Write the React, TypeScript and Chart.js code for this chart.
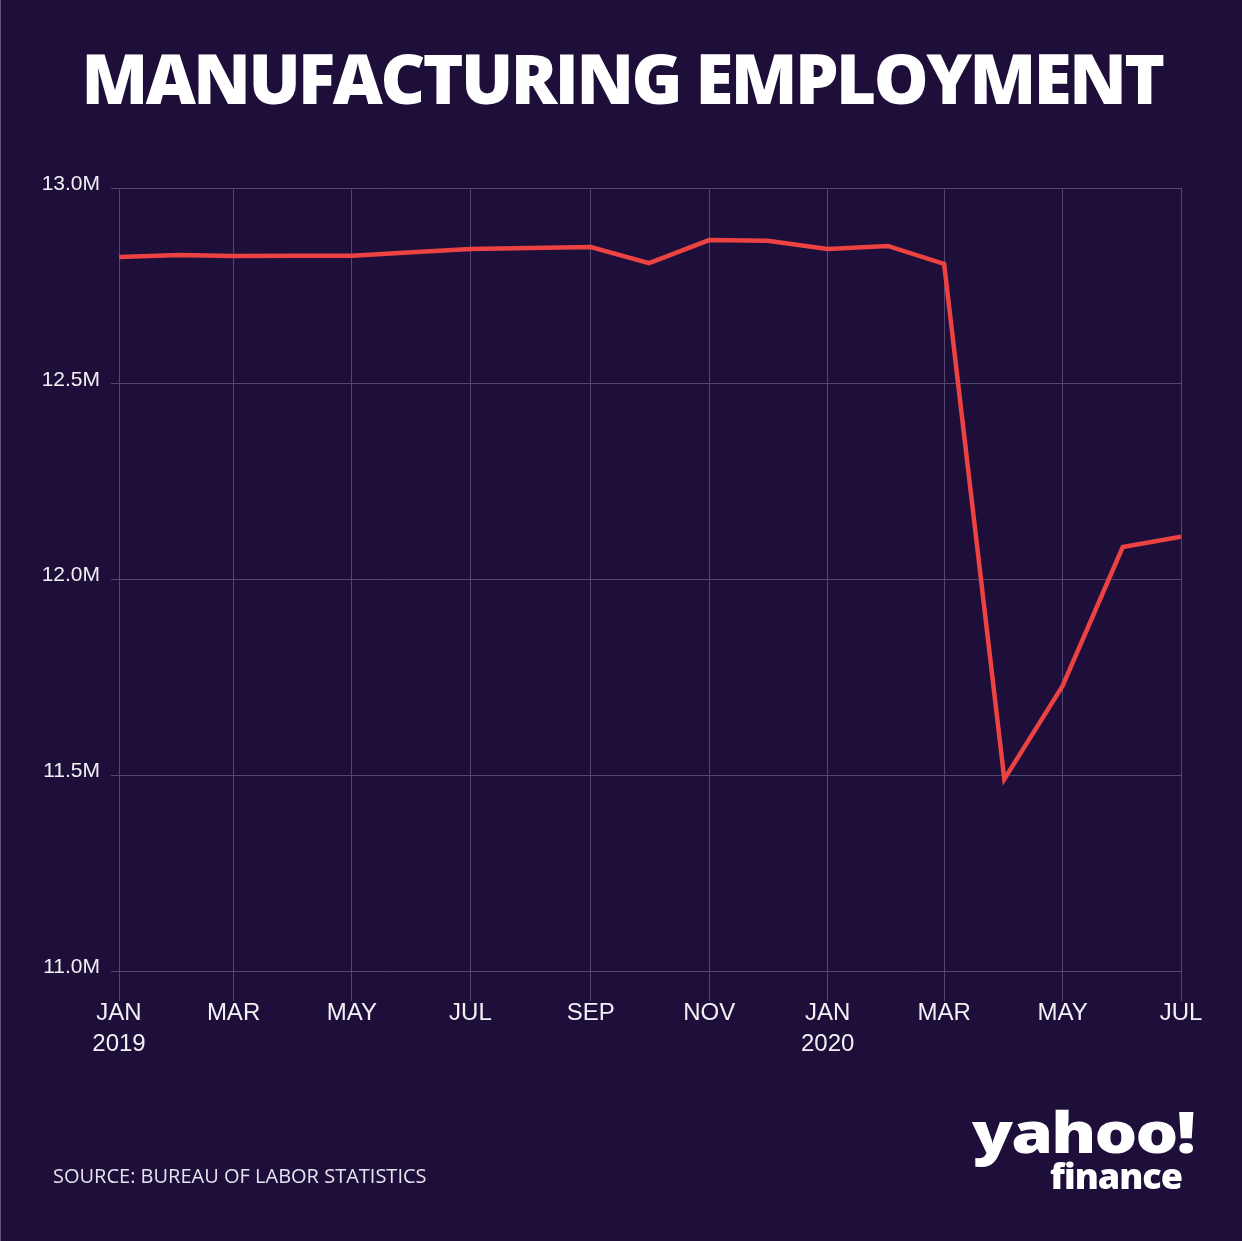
import React, { useEffect, useRef } from "react";
import { Chart, registerables } from "chart.js";

Chart.register(...registerables);

// Monthly observations, Jan 2019 .. Jul 2020
const months = [
  "2019-01", "2019-02", "2019-03", "2019-04", "2019-05", "2019-06", "2019-07", "2019-08",
  "2019-09", "2019-10", "2019-11", "2019-12", "2020-01", "2020-02", "2020-03", "2020-04",
  "2020-05", "2020-06", "2020-07",
];
const employmentMillions = [
  12.824, 12.829, 12.826, 12.827, 12.827, 12.836, 12.844, 12.847, 12.849, 12.808,
  12.867, 12.865, 12.844, 12.852, 12.806, 11.49, 11.728, 12.083, 12.109,
];
const tickMonths = [
  "2019-01", "2019-03", "2019-05", "2019-07", "2019-09", "2019-11",
  "2020-01", "2020-03", "2020-05", "2020-07",
];
const tickLabels: (string | string[])[] = [
  ["JAN", "2019"], "MAR", "MAY", "JUL", "SEP", "NOV", ["JAN", "2020"], "MAR", "MAY", "JUL",
];
const yTicks = [11.0, 11.5, 12.0, 12.5, 13.0];

const BG = "#1d0e3a";
const GRID = "#51476f";
const LINE = "#ec4242";
const DAY = 86400000;

function dayOf(m: string): number {
  const [y, mo] = m.split("-").map(Number);
  return (Date.UTC(y, mo - 1, 1) - Date.UTC(2019, 0, 1)) / DAY;
}

export default function App() {
  const canvasRef = useRef<HTMLCanvasElement | null>(null);

  useEffect(() => {
    if (!canvasRef.current) return;
    const points = months.map((m, i) => ({ x: dayOf(m), y: employmentMillions[i] }));
    const tickDays = tickMonths.map(dayOf);
    const chart = new Chart(canvasRef.current, {
      type: "line",
      data: {
        datasets: [
          {
            data: points,
            borderColor: LINE,
            borderWidth: 4.5,
            pointRadius: 0,
            tension: 0,
            fill: false,
          },
        ],
      },
      options: {
        responsive: false,
        animation: false,
        layout: { padding: { left: 0, right: 61, top: 188, bottom: 170 } },
        plugins: { legend: { display: false }, tooltip: { enabled: false }, title: { display: false } },
        scales: {
          x: {
            type: "linear",
            min: tickDays[0],
            max: tickDays[tickDays.length - 1],
            border: { display: false },
            afterBuildTicks: (s: any) => {
              s.ticks = tickDays.map((v) => ({ value: v }));
            },
            grid: { color: GRID, tickColor: GRID, tickLength: 30, lineWidth: 1 },
            ticks: {
              autoSkip: false,
              maxRotation: 0,
              minRotation: 0,
              padding: -3,
              color: "#f2f0f5",
              font: { family: "'Liberation Sans', Arial, sans-serif", size: 24, lineHeight: 1.3 },
              callback: (v: any) => {
                const i = tickDays.indexOf(Number(v));
                return i >= 0 ? tickLabels[i] : "";
              },
            },
            afterFit: (s: any) => {
              s.height = 100;
            },
          },
          y: {
            min: 11,
            max: 13,
            border: { display: false },
            afterBuildTicks: (s: any) => {
              s.ticks = yTicks.map((v) => ({ value: v }));
            },
            grid: { color: GRID, tickColor: GRID, tickLength: 8, lineWidth: 1 },
            ticks: {
              padding: 11,
              color: "#f2f0f5",
              font: { family: "'Liberation Sans', Arial, sans-serif", size: 21, lineHeight: 0.38 },
              callback: (v: any) => [Number(v).toFixed(1) + "M", ""],
            },
            afterFit: (s: any) => {
              s.width = 119;
            },
          },
        },
      },
    });
    return () => chart.destroy();
  }, []);

  return (
    <div
      style={{
        position: "absolute",
        left: 0,
        top: 0,
        width: 1242,
        height: 1241,
        background: BG,
        overflow: "hidden",
        borderLeft: "1px solid #5c5478",
        boxSizing: "border-box",
      }}
    >
      <div
        style={{
          position: "absolute",
          left: 0,
          top: 27,
          width: 1242,
          textAlign: "center",
          color: "#ffffff",
          fontFamily: "'Open Sans', sans-serif",
          fontWeight: 800,
          fontSize: 69,
          lineHeight: "100px",
          letterSpacing: -2.5,
          whiteSpace: "nowrap",
        }}
      >
        MANUFACTURING EMPLOYMENT
      </div>
      <canvas
        ref={canvasRef}
        width={1242}
        height={1241}
        style={{ position: "absolute", left: -1, top: 0, width: 1242, height: 1241 }}
      />
      <div
        style={{
          position: "absolute",
          left: 52,
          top: 1162,
          color: "#e6e2ee",
          fontFamily: "'Open Sans', sans-serif",
          fontSize: 20,
          lineHeight: "28px",
          whiteSpace: "nowrap",
        }}
      >
        SOURCE: BUREAU OF LABOR STATISTICS
      </div>
      <div
        style={{
          position: "absolute",
          right: 48,
          top: 1103,
          color: "#ffffff",
          fontFamily: "'Open Sans', sans-serif",
          fontWeight: 800,
          fontSize: 56,
          lineHeight: "56px",
          letterSpacing: -1.5,
          whiteSpace: "nowrap",
          transform: "scaleX(1.2)",
          transformOrigin: "right center",
        }}
      >
        yahoo!
      </div>
      <div
        style={{
          position: "absolute",
          right: 60,
          top: 1158,
          color: "#ffffff",
          fontFamily: "'Open Sans', sans-serif",
          fontWeight: 800,
          fontSize: 36,
          lineHeight: "36px",
          letterSpacing: -1,
          whiteSpace: "nowrap",
        }}
      >
        finance
      </div>
    </div>
  );
}
